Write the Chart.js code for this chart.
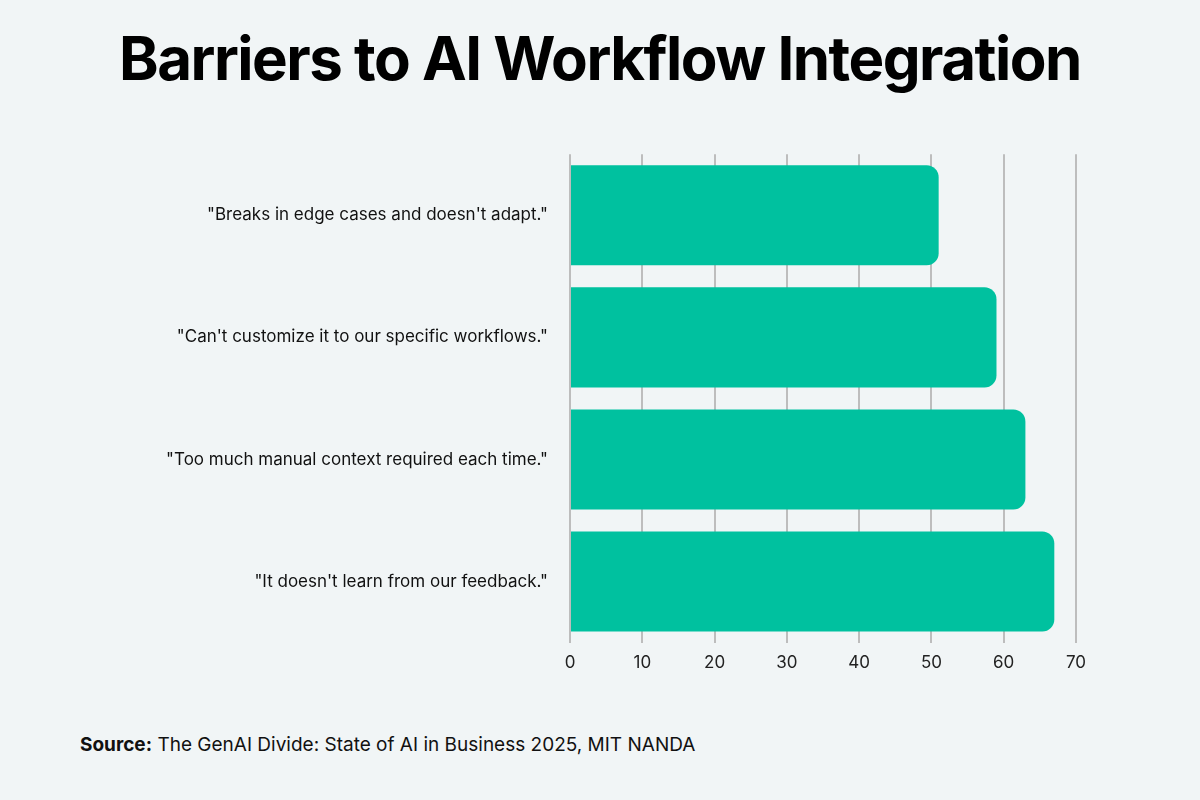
<!DOCTYPE html>
<html><head><meta charset="utf-8">
<script src="https://cdn.jsdelivr.net/npm/chart.js@4/dist/chart.umd.min.js"></script>
<style>
html,body{margin:0;padding:0;background:#f1f5f6;}
#wrap{position:relative;width:1200px;height:800px;background:#f1f5f6;font-family:Inter,sans-serif;}
#title{position:absolute;top:22px;left:0;width:1200px;text-align:center;font-size:60px;font-weight:700;color:#000;letter-spacing:-1.5px;}
#src{position:absolute;left:80px;top:733px;font-size:19px;color:#111;}
#cv{position:absolute;left:0;top:130px;}
</style></head><body>
<div id="wrap">
<div id="title">Barriers to AI Workflow Integration</div>
<canvas id="cv" width="1200" height="560"></canvas>
<div id="src"><b>Source:</b> The GenAI Divide: State of AI in Business 2025, MIT NANDA</div>
</div>
<script>
const categories = ['"Breaks in edge cases and doesn\'t adapt."','"Can\'t customize it to our specific workflows."','"Too much manual context required each time."','"It doesn\'t learn from our feedback."'];
const values = [51, 59, 63, 67];
const xTicks = [0,10,20,30,40,50,60,70];
new Chart(document.getElementById('cv'), {
  type:'bar',
  data:{labels:categories,datasets:[{data:values,backgroundColor:'#00c19f',borderRadius:{topRight:12,bottomRight:12,topLeft:0,bottomLeft:0},borderSkipped:false,barPercentage:0.82,categoryPercentage:1}]},
  options:{indexAxis:'y',responsive:false,animation:false,
    layout:{padding:{top:17,right:124,bottom:7,left:0}},
    plugins:{legend:{display:false},tooltip:{enabled:false}},
    scales:{
      x:{min:0,max:70,afterBuildTicks:s=>{s.ticks=xTicks.map(v=>({value:v}));},
        grid:{color:'#bdbdbd',lineWidth:2,drawTicks:false},border:{display:false},
        ticks:{color:'#222',font:{family:'Inter',size:17},padding:10}},
      y:{grid:{display:false},border:{display:false},afterFit:s=>{s.width=570;},
        ticks:{color:'#111',font:{family:'Inter',size:17},padding:14}}
    }}
});
</script>
</body></html>
